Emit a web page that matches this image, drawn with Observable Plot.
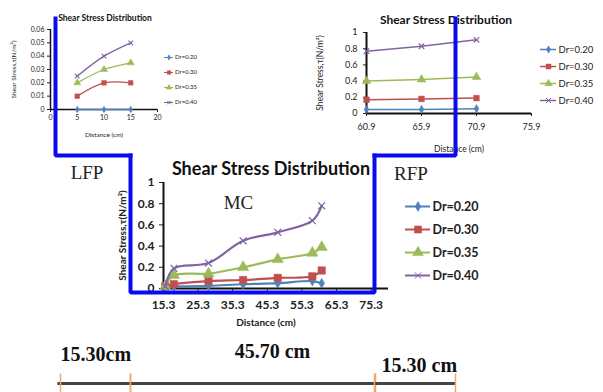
<!DOCTYPE html>
<html><head><meta charset="utf-8">
<script src="https://cdn.jsdelivr.net/npm/d3@7"></script>
<script src="https://cdn.jsdelivr.net/npm/@observablehq/plot@0.6"></script>
<style>
body{margin:0;background:#fff;}
#wrap{position:relative;width:603px;height:392px;overflow:hidden;background:#fff;font-family:Lato,sans-serif;}
#wrap > div{position:absolute;}
svg{overflow:visible;background:transparent !important;max-width:none !important;}
</style></head><body><div id="wrap"></div>
<script>
// ---------- shared series ----------
const seriesNames = ["Dr=0.20", "Dr=0.30", "Dr=0.35", "Dr=0.40"];
const seriesColors = ["#4F81BD", "#C0504D", "#9BBB59", "#8064A2"];
const seriesSymbols = ["diamond", "square", "triangle", "times"];

// ---------- left floodplain (LFP) ----------
const lfpDistance = [5, 10, 15];
const lfpDr020 = [0, 0, 0];
const lfpDr030 = [0.01, 0.02, 0.02];
const lfpDr035 = [0.02, 0.03, 0.035];
const lfpDr040 = [0.025, 0.04, 0.05];
const lfpXTicks = [0, 5, 10, 15, 20];
const lfpYTicks = [0, 0.01, 0.02, 0.03, 0.04, 0.05, 0.06];

// ---------- right floodplain (RFP) ----------
const rfpDistance = [60.9, 65.9, 70.9];
const rfpDr020 = [0.05, 0.05, 0.06];
const rfpDr030 = [0.17, 0.18, 0.19];
const rfpDr035 = [0.40, 0.42, 0.45];
const rfpDr040 = [0.77, 0.83, 0.91];
const rfpXTicks = [60.9, 65.9, 70.9, 75.9];
const rfpYTicks = [0, 0.2, 0.4, 0.6, 0.8, 1];

// ---------- main channel (MC) ----------
const mcDistance = [15.8, 18.3, 28.3, 38.3, 48.3, 58.3, 61.0];
const mcDr020 = [0.02, 0.02, 0.025, 0.04, 0.05, 0.07, 0.05];
const mcDr030 = [0.02, 0.04, 0.07, 0.08, 0.10, 0.115, 0.17];
const mcDr035 = [0.02, 0.125, 0.14, 0.20, 0.275, 0.335, 0.39];
const mcDr040 = [0.02, 0.19, 0.24, 0.45, 0.53, 0.64, 0.78];
const mcXTicks = [15.3, 25.3, 35.3, 45.3, 55.3, 65.3, 75.3];
const mcYTicks = [0, 0.2, 0.4, 0.6, 0.8, 1];

// ---------- texts ----------
const chartTitle = "Shear Stress Distribution";
const xTitle = "Distance (cm)";
const yTitle = "Shear Stress,τ(N/m²)";

// ---------- channel cross-section ----------
const sectionLabels = ["LFP", "MC", "RFP"];
const sectionWidths = [15.30, 45.70, 15.30];
const widthLabels = ["15.30cm", "45.70 cm", "15.30 cm"];
const sectionLevels = {mainBed: 0, floodplainBed: 1, bankTop: 2, dimension: -0.664};

const wrap = document.getElementById("wrap");
function place(node, left, top) {
  const d = document.createElement("div");
  d.style.left = left + "px"; d.style.top = top + "px";
  d.appendChild(node); wrap.appendChild(d);
  return d;
}

function rows(xs, series) {
  const out = [];
  series.forEach((ys, k) => ys.forEach((y, i) => out.push({x: xs[i], y, s: seriesNames[k], k})));
  return out;
}

function chart(o) {
  const data = rows(o.xs, o.series);
  const marks = [
    Plot.axisX({ticks: o.xTicks, tickFormat: o.xFmt, tickSize: o.tickSize, tickPadding: o.xPad,
      fontSize: o.tickFont, fontWeight: o.tickWeight, label: null, stroke: "#222", fill: "#222"}),
    Plot.axisY({ticks: o.yTicks, tickFormat: o.yFmt, tickSize: o.tickSize, tickPadding: o.yPad,
      fontSize: o.tickFont, fontWeight: o.tickWeight, label: null, stroke: "#222", fill: "#222"}),
    Plot.ruleY([o.yDomain[0]], {stroke: "#111", strokeWidth: o.axisWidth}),
    Plot.ruleX([o.xDomain[0]], {stroke: "#111", strokeWidth: o.axisWidth})
  ];
  seriesNames.forEach((name, k) => {
    const d = data.filter(r => r.k === k);
    marks.push(Plot.line(d, {x: "x", y: "y", stroke: seriesColors[k], strokeWidth: o.lineWidth, curve: o.curve}));
    marks.push(Plot.dot(d, {x: "x", y: "y", symbol: seriesSymbols[k], r: o.r[k],
      fill: k === 3 ? "none" : seriesColors[k], stroke: seriesColors[k], strokeWidth: k === 3 ? 1.2 : 0.5}));
  });
  marks.push(Plot.text([chartTitle], {text: d => d, frameAnchor: "top", dy: o.titleDy, dx: o.titleDx,
    fontSize: o.titleFont, fontWeight: "bold", fill: "#111"}));
  marks.push(Plot.text([xTitle], {text: d => d, frameAnchor: "bottom", dy: o.xLabelDy, dx: o.xLabelDx,
    fontSize: o.labelFont, fontWeight: o.labelWeight, fill: "#222"}));
  marks.push(Plot.text([yTitle], {text: d => d, frameAnchor: "left", dx: o.yLabelDx, rotate: -90, textAnchor: "middle",
    fontSize: o.labelFont, fontWeight: o.labelWeight, fill: "#222"}));
  return Plot.plot({
    width: o.width, height: o.height,
    marginLeft: o.m[3], marginRight: o.m[1], marginTop: o.m[0], marginBottom: o.m[2],
    style: {fontFamily: "Lato, sans-serif", background: "transparent", overflow: "visible"},
    x: {domain: o.xDomain}, y: {domain: o.yDomain},
    marks
  });
}

function legend(o) {
  const marks = [];
  seriesNames.forEach((name, k) => {
    marks.push(Plot.ruleY([name], {y: d => d, x1: 0, x2: o.lineLen, stroke: seriesColors[k], strokeWidth: o.lineWidth}));
    marks.push(Plot.dot([name], {y: d => d, x: o.lineLen / 2, symbol: seriesSymbols[k], r: o.r[k],
      fill: k === 3 ? "none" : seriesColors[k], stroke: seriesColors[k], strokeWidth: k === 3 ? 1 : 0.5}));
    marks.push(Plot.text([name], {y: d => d, x: o.lineLen + o.gap, text: d => d, textAnchor: "start",
      fontSize: o.fontSize, fontWeight: o.fontWeight, fill: "#222"}));
  });
  return Plot.plot({
    width: o.width, height: o.height, margin: 0,
    style: {fontFamily: "Lato, sans-serif", background: "transparent", overflow: "visible"},
    x: {type: "identity", axis: null},
    y: {type: "point", domain: seriesNames, range: o.yRange, axis: null},
    marks
  });
}

const fmt2 = d => String(+d.toFixed(2));

// Top-left: LFP
place(chart({
  xs: lfpDistance, series: [lfpDr020, lfpDr030, lfpDr035, lfpDr040],
  xDomain: [0, 20], yDomain: [0, 0.06], xTicks: lfpXTicks, yTicks: lfpYTicks,
  xFmt: d => String(d), yFmt: fmt2,
  width: 160, height: 145, m: [29, 3, 36, 50],
  tickSize: 3, xPad: 3, yPad: 3, tickFont: 7, tickWeight: "normal", axisWidth: 1.5,
  lineWidth: 1.3, curve: "catmull-rom", r: [2, 2.6, 2.6, 2.2],
  titleDy: -15, titleDx: 1, titleFont: 8.5, xLabelDy: 27, xLabelDx: 0, yLabelDx: -37, labelFont: 6.5, labelWeight: "normal"
}), 0, 0);
place(legend({width: 45, height: 80, yRange: [8, 70], lineLen: 9, gap: 1.5, lineWidth: 1, r: [1.6, 2, 2, 1.8],
  fontSize: 6, fontWeight: "normal"}), 164, 40);

// Top-right: RFP
place(chart({
  xs: rfpDistance, series: [rfpDr020, rfpDr030, rfpDr035, rfpDr040],
  xDomain: [60.9, 75.9], yDomain: [0, 1], xTicks: rfpXTicks, yTicks: rfpYTicks,
  xFmt: d => d.toFixed(1), yFmt: fmt2,
  width: 235, height: 160, m: [32, 4, 47, 66],
  tickSize: 3, xPad: 7, yPad: 6, tickFont: 9, tickWeight: "normal", axisWidth: 2,
  lineWidth: 1.5, curve: "linear", r: [2.5, 3.2, 3.2, 2.6],
  titleDy: -17, titleDx: -3, titleFont: 12, xLabelDy: 38, xLabelDx: 10, yLabelDx: -46, labelFont: 8.5, labelWeight: "normal"
}), 300, 0);
place(legend({width: 68, height: 90, yRange: [10, 78], lineLen: 16, gap: 2, lineWidth: 1.5, r: [2.2, 2.8, 2.8, 2.4],
  fontSize: 9.5, fontWeight: "normal"}), 540, 30);

// Middle: MC
place(chart({
  xs: mcDistance, series: [mcDr020, mcDr030, mcDr035, mcDr040],
  xDomain: [15.3, 80.3], yDomain: [0, 1], xTicks: mcXTicks, yTicks: mcYTicks,
  xFmt: d => d.toFixed(1), yFmt: fmt2,
  width: 300, height: 185, m: [32, 12, 47, 63],
  tickSize: 4, xPad: 8, yPad: 5, tickFont: 12, tickWeight: "bold", axisWidth: 2,
  lineWidth: 2.2, curve: "catmull-rom", r: [3, 4.2, 4.2, 3.2],
  titleDy: -20, titleDx: -5, titleFont: 18, xLabelDy: 37, xLabelDx: -10, yLabelDx: -41, labelFont: 10, labelWeight: "bold"
}), 100, 150);
place(legend({width: 100, height: 120, yRange: [14, 107], lineLen: 25, gap: 2, lineWidth: 2, r: [3, 4, 4, 3],
  fontSize: 12.5, fontWeight: "bold"}), 405, 180);

// Overlay: channel cross-section, one plot per section (the sketch is not drawn to one scale)
const edges = [0, ...d3.cumsum(sectionWidths)];
const L = sectionLevels;
const framePieces = [
  [{x: edges[0], y: L.bankTop}, {x: edges[0], y: L.floodplainBed}, {x: edges[1], y: L.floodplainBed}],
  [{x: edges[1], y: L.floodplainBed}, {x: edges[1], y: L.mainBed}, {x: edges[2], y: L.mainBed}, {x: edges[2], y: L.floodplainBed}],
  [{x: edges[2], y: L.floodplainBed}, {x: edges[3], y: L.floodplainBed}, {x: edges[3], y: L.bankTop}]
];
const sectionPixels = [[55, 130], [130, 374], [374, 455]];
const labelOffsets = [{dx: -6, dy: 17}, {dx: -14, dy: 47}, {dx: -4, dy: 18}];
const widthLabelStyle = [{at: "left", anchor: "start", dx: 5, dy: -29}, {at: "mid", anchor: "middle", dx: 20, dy: -32}, {at: "left", anchor: "start", dx: 7, dy: -18}];
const dimTickShift = [[5, 0], [0, 1], [0, 0]];

sectionLabels.forEach((lab, i) => {
  const x0 = edges[i], x1 = edges[i + 1], mid = (x0 + x1) / 2;
  const ws = widthLabelStyle[i];
  const marks = [
    Plot.ruleY([L.dimension], {x1: x0, x2: x1, stroke: "#444", strokeWidth: 3, dx: dimTickShift[i][0] / 2}),
    Plot.ruleX([x0], {x: d => d, y1: L.dimension - 0.07, y2: L.dimension + 0.07, stroke: "#F2A66A", strokeWidth: 1.5, dx: dimTickShift[i][0]}),
    Plot.ruleX([x1], {x: d => d, y1: L.dimension - 0.07, y2: L.dimension + 0.07, stroke: "#F2A66A", strokeWidth: 1.5, dx: dimTickShift[i][1]}),
    Plot.line(framePieces[i], {x: "x", y: "y", stroke: "#0a0aee", strokeWidth: 4, strokeLinejoin: "miter", strokeLinecap: "square"}),
    Plot.text([lab], {x: mid, y: L.floodplainBed, text: d => d, dx: labelOffsets[i].dx, dy: labelOffsets[i].dy,
      fontSize: 19, fontFamily: "Liberation Serif, serif", fill: "#222"}),
    Plot.text([widthLabels[i]], {x: ws.at === "left" ? x0 : mid, y: L.dimension, text: d => d,
      textAnchor: ws.anchor, dx: ws.dx, dy: ws.dy,
      fontSize: 20, fontWeight: "bold", fontFamily: "Liberation Serif, serif", fill: "#111"})
  ];
  const p = Plot.plot({
    width: 603, height: 392, margin: 0,
    style: {background: "transparent", overflow: "visible"},
    x: {domain: [x0, x1], range: sectionPixels[i], axis: null},
    y: {domain: [L.mainBed, L.bankTop], range: [292, 18], axis: null},
    marks
  });
  place(p, 0, 0).style.pointerEvents = "none";
});
</script>
</body></html>
